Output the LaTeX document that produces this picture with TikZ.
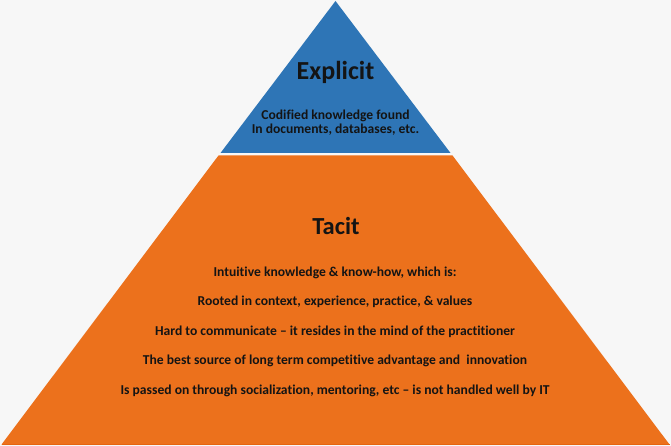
\documentclass[tikz,border=0pt]{standalone}
\usepackage{fontspec}
\setmainfont{Carlito}[Ligatures={NoCommon}]
\definecolor{bgc}{RGB}{247,247,247}
\definecolor{blueT}{RGB}{46,117,182}
\definecolor{orangeT}{RGB}{236,113,28}
\definecolor{orangeD}{RGB}{230,100,15}
\definecolor{txt}{RGB}{20,20,20}
\begin{document}
\begin{tikzpicture}[x=1pt,y=-1pt,
  title/.style={font=\bfseries\fontsize{26}{30}\selectfont, text=txt, inner sep=0pt, anchor=base},
  body/.style={font=\bfseries\fontsize{13.6}{16}\selectfont, text=txt, inner sep=0pt, anchor=base}]
\fill[bgc] (0,0) rectangle (671,446);
\useasboundingbox (0,0) rectangle (671,446);
% blue top triangle
\fill[blueT] (335.5,1) -- (450.5,153) -- (220.5,153) -- cycle;
% orange trapezoid
\fill[orangeT] (218.5,155.5) -- (452.5,155.5) -- (669.5,444.5) -- (1.5,444.5) -- cycle;
\draw[orangeD, line width=1pt] (1.5,444) -- (669.5,444);
% texts
\node[title] (explicit) at (335.5,80) {Explicit};
\node[body] (cod1) at (335.5,119.5) {Codified knowledge found};
\node[body] (cod2) at (335.5,133.5) {In documents, databases, etc.};
\node[title, font=\bfseries\fontsize{24.5}{28}\selectfont] (tacit) at (336,234) {Tacit};
\node[body] (t1) at (335,276) {Intuitive knowledge \& know-how, which is:};
\node[body] (t2) at (335,305.5) {Rooted in context, experience, practice, \& values};
\node[body] (t3) at (335,335) {Hard to communicate – it resides in the mind of the practitioner};
\node[body] (t4) at (335,364.5) {The best source of long term competitive advantage and\ \ innovation};
\node[body] (t5) at (335,394.5) {Is passed on through socialization, mentoring, etc – is not handled well by IT};
\end{tikzpicture}
\end{document}
